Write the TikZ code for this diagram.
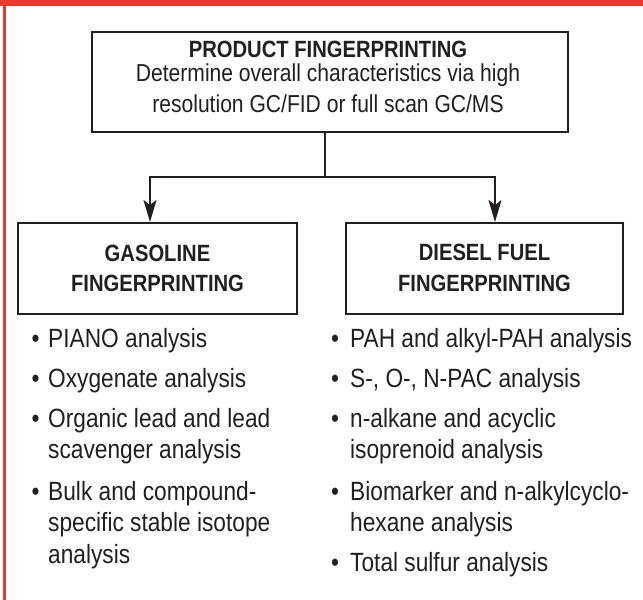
\documentclass[tikz,border=0pt]{standalone}
\usepackage{fontspec}
\setmainfont[FakeStretch=0.86]{Liberation Sans}
\usetikzlibrary{arrows.meta}
\definecolor{ink}{HTML}{231F20}
\definecolor{redbar}{HTML}{E8392F}
\begin{document}
\begin{tikzpicture}[x=1pt,y=-1pt,
  box/.style={draw=ink, line width=2pt, inner sep=0pt},
  ttl/.style={font=\fontsize{23.5}{28}\selectfont\bfseries, text=ink, anchor=base, inner sep=0pt},
  body/.style={font=\fontsize{24.5}{30}\selectfont, text=ink, anchor=base, inner sep=0pt},
  item/.style={font=\fontsize{26.4}{31}\selectfont, text=ink, anchor=base west, inner sep=0pt},
  bul/.style={font=\fontsize{26.4}{31}\selectfont, text=ink, anchor=base, inner sep=0pt},
  conn/.style={draw=ink, line width=2pt},
  tip/.style={-{Stealth[length=22pt,width=13pt,inset=5pt]}}
]
\useasboundingbox (0,0) rectangle (643,600);
\fill[white] (0,0) rectangle (643,600);
\fill[redbar] (0,0) rectangle (643,5.7);
\fill[redbar] (2.7,0) rectangle (5.7,600);

% boxes
\node[box, minimum width=476pt, minimum height=100pt] (top) at (330,82) {};
\node[box, minimum width=279pt, minimum height=91pt] (gas) at (157.5,268.5) {};
\node[box, minimum width=277pt, minimum height=91pt] (die) at (484.5,268.5) {};

% top box text
\node[ttl] (t1) at (328,57.3) {PRODUCT FINGERPRINTING};
\node[body] (t2) at (328,81) {Determine overall characteristics via high};
\node[body] (t3) at (328,112) {resolution GC/FID or full scan GC/MS};

% box titles
\node[ttl] (g1) at (157.5,261.5) {GASOLINE};
\node[ttl] (g2) at (157.5,291) {FINGERPRINTING};
\node[ttl] (d1) at (484.5,260.5) {DIESEL FUEL};
\node[ttl] (d2) at (484.5,291) {FINGERPRINTING};

% connectors
\coordinate (j) at (325,177);
\coordinate (jl) at (150,177);
\coordinate (jr) at (495,177);
\draw[conn] (top.south -| j) -- (j);
\draw[conn, tip] (j) -- (jl) -- (gas.north -| jl);
\draw[conn, tip] (j) -- (jr) -- (die.north -| jr);

% left list
\node[bul] (lb1) at (35.5,347) {•};
\node[item] (l1) at (48,347) {PIANO analysis};
\node[bul] (lb2) at (35.5,387) {•};
\node[item] (l2) at (48,387) {Oxygenate analysis};
\node[bul] (lb3) at (35.5,427) {•};
\node[item] (l3a) at (48,427) {Organic lead and lead};
\node[item] (l3b) at (48,458) {scavenger analysis};
\node[bul] (lb4) at (35.5,500) {•};
\node[item] (l4a) at (48,500) {Bulk and compound-};
\node[item] (l4b) at (48,531) {specific stable isotope};
\node[item] (l4c) at (48,563) {analysis};

% right list
\node[bul] (rb1) at (335,347) {•};
\node[item] (r1) at (350,347) {PAH and alkyl-PAH analysis};
\node[bul] (rb2) at (335,387) {•};
\node[item] (r2) at (350,387) {S-, O-, N-PAC analysis};
\node[bul] (rb3) at (335,427) {•};
\node[item] (r3a) at (350,427) {n-alkane and acyclic};
\node[item] (r3b) at (350,458) {isoprenoid analysis};
\node[bul] (rb4) at (335,500) {•};
\node[item] (r4a) at (350,500) {Biomarker and n-alkylcyclo-};
\node[item] (r4b) at (350,531) {hexane analysis};
\node[bul] (rb5) at (335,571) {•};
\node[item] (r5) at (350,571) {Total sulfur analysis};
\end{tikzpicture}
\end{document}
